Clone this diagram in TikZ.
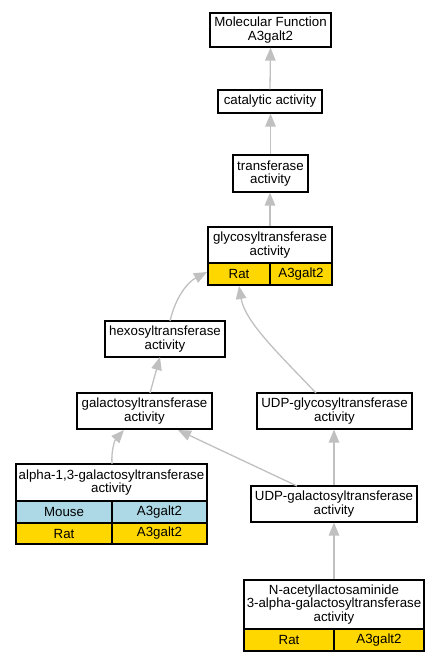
\documentclass[tikz,border=0pt]{standalone}
\usepackage{fontspec}
\setmainfont{Liberation Sans}
\usetikzlibrary{arrows.meta}
\definecolor{edgegray}{RGB}{192,192,192}
\definecolor{ratgold}{RGB}{255,215,0}
\definecolor{mouseblue}{RGB}{173,216,230}
\tikzset{
  term/.style={draw=black, line width=1.2pt, fill=white, inner sep=0pt, align=center,
    font=\fontsize{13.3}{13.3}\selectfont},
  cell/.style={term},
  rat/.style={cell, fill=ratgold},
  mouse/.style={cell, fill=mouseblue},
  edge/.style={draw=edgegray, line width=1.3pt, -{Triangle[length=13pt,width=10.5pt]}},
}
\begin{document}
\begin{tikzpicture}[x=1pt,y=-1pt]
\useasboundingbox (0,0) rectangle (439,661);
% nodes
\node[term, minimum width=121pt, minimum height=34pt] (mf) at (270.5,30) {Molecular Function\\A3galt2};
\node[term, minimum width=104pt, minimum height=23pt] (cat) at (270,101.5) {catalytic activity};
\node[term, minimum width=75pt, minimum height=37pt] (trans) at (270.5,173.5) {transferase\\activity};
\node[term, minimum width=124pt, minimum height=36pt] (glyco) at (270,245) {glycosyltransferase\\activity};
\node[rat, minimum width=62pt, minimum height=22pt] (glycoRat) at (239,274) {Rat};
\node[rat, minimum width=62pt, minimum height=22pt] (glycoGene) at (301,274) {A3galt2};
\node[term, minimum width=120pt, minimum height=36pt] (hexo) at (165,339) {hexosyltransferase\\activity};
\node[term, minimum width=135pt, minimum height=36pt] (galacto) at (144.5,411) {galactosyltransferase\\activity};
\node[term, minimum width=155pt, minimum height=36pt] (udpglyco) at (334.5,411) {UDP-glycosyltransferase\\activity};
\node[term, minimum width=191pt, minimum height=37pt] (alpha) at (111.5,482.5) {alpha-1,3-galactosyltransferase\\activity};
\node[mouse, minimum width=96pt, minimum height=22pt] (alphaMouse) at (64,512) {Mouse};
\node[mouse, minimum width=95pt, minimum height=22pt] (alphaMouseGene) at (159.5,512) {A3galt2};
\node[rat, minimum width=96pt, minimum height=21pt] (alphaRat) at (64,533.5) {Rat};
\node[rat, minimum width=95pt, minimum height=21pt] (alphaRatGene) at (159.5,533.5) {A3galt2};
\node[term, minimum width=166pt, minimum height=36pt] (udpgal) at (334,504) {UDP-galactosyltransferase\\activity};
\node[term, minimum width=180pt, minimum height=49pt] (nacetyl) at (334,604.5) {N-acetyllactosaminide\\3-alpha-galactosyltransferase\\activity};
\node[rat, minimum width=90pt, minimum height=22pt] (nacetylRat) at (289,640) {Rat};
\node[rat, minimum width=90pt, minimum height=22pt] (nacetylGene) at (379,640) {A3galt2};
% connector end points
\coordinate (hexoOut) at (170,321);
\coordinate (glycoInL) at (207,272);
\coordinate (udpglycoOut) at (316,393);
\coordinate (glycoInB) at (239,286);
\coordinate (galactoOut) at (150,393);
\coordinate (hexoIn) at (160,357);
\coordinate (alphaOut) at (112,464);
\coordinate (galactoInL) at (124,430);
\coordinate (udpgalOut) at (297,486);
\coordinate (galactoInR) at (178,430);
% connectors
\draw[edge] (cat.north) -- (mf.south);
\draw[edge] (trans.north) -- (trans.north |- cat.south);
\draw[edge] (glyco.north) -- (glyco.north |- trans.south);
\draw[edge] (hexoOut) .. controls (176,296) and (188,282) .. (glycoInL);
\draw[edge] (udpglycoOut) .. controls (280,355) and (245,322) .. (glycoInB);
\draw[edge] (galactoOut) -- (hexoIn);
\draw[edge] (alphaOut) .. controls (111,450) and (115,440) .. (galactoInL);
\draw[edge] (udpgalOut) -- (galactoInR);
\draw[edge] (udpgal.north) -- (udpgal.north |- udpglyco.south);
\draw[edge] (nacetyl.north) -- (nacetyl.north |- udpgal.south);
\end{tikzpicture}
\end{document}
